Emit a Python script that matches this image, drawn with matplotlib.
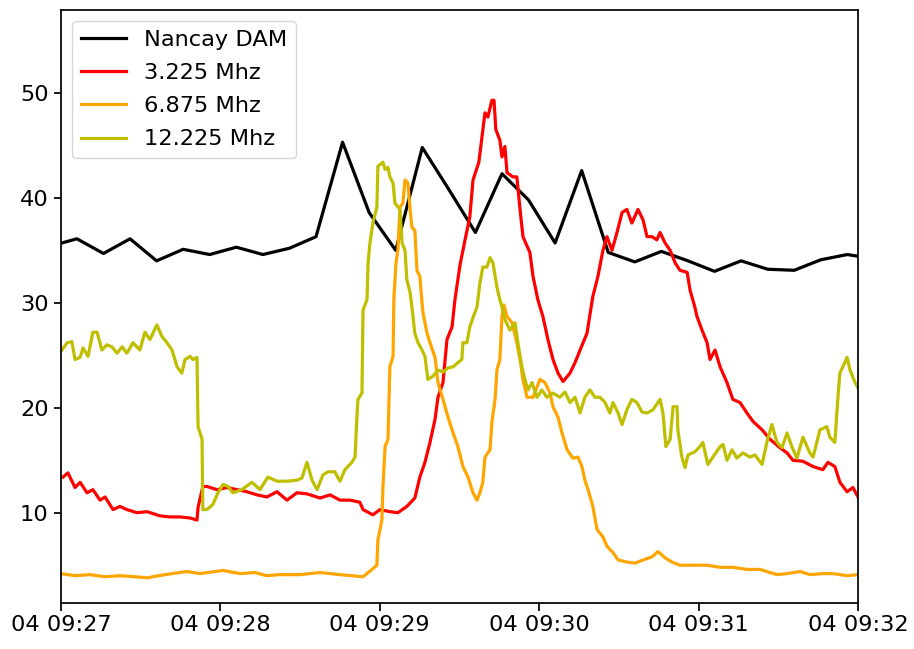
import pandas as pd
import matplotlib
matplotlib.use("Agg")
import matplotlib.pyplot as plt
import matplotlib.dates as mdates
from matplotlib.ticker import MultipleLocator

# seconds after 09:27:00 and values
dam_t = [-4, 6, 16, 26, 36, 46, 56, 66, 76, 86, 96, 106, 116, 126, 136, 146, 156, 166,
         176, 186, 196, 206, 216, 226, 236, 246, 256, 266, 276, 286, 296, 306]
dam_v = [35.4, 36.1, 34.7, 36.1, 34.0, 35.1, 34.6, 35.3, 34.6, 35.2, 36.3, 45.3, 38.6, 35.0,
         44.8, 40.8, 36.7, 42.3, 39.8, 35.7, 42.6, 34.8, 33.9, 34.9, 34.0, 33.0, 34.0, 33.2,
         33.1, 34.1, 34.6, 34.2]

red_t = [0.8, 2.6, 5.3, 7.2, 9.8, 12.0, 14.7, 16.6, 19.6, 22.2, 24.8, 28.6, 32.4, 37.3, 41.0,
         44.8, 48.5, 51.2, 51.6, 53.4, 55.0, 58.7, 62.5, 66.2, 70.0, 73.8, 77.5, 81.3, 85.1,
         88.8, 92.6, 97.5, 101.3, 105.0, 108.8, 112.5, 113.7, 117.4, 120.1, 123.8, 126.8,
         130.2, 133.2, 135.1, 137.0, 138.9, 140.8, 141.9, 143.8, 145.3, 147.2, 148.3, 150.2,
         152.1, 153.9, 155.1, 157.3, 159.6, 160.7, 162.2, 163.0, 163.7, 165.2, 166.0, 167.1,
         167.9, 170.1, 171.6, 172.8, 173.9, 176.5, 177.7, 179.5, 181.4, 183.3, 185.2, 187.1,
         189.0, 191.6, 193.5, 195.4, 198.0, 200.2, 202.1, 204.0, 205.5, 207.4, 209.3, 211.2,
         213.0, 214.9, 217.2, 219.1, 220.6, 222.5, 224.3, 225.5, 227.4, 229.3, 231.2, 233.0,
         235.7, 236.8, 238.6, 239.4, 241.3, 243.2, 244.3, 246.2, 248.1, 250.7, 252.9, 255.6,
         258.2, 260.5, 263.9, 266.9, 270.6, 273.3, 275.5, 279.3, 283.1, 286.8, 288.7, 291.3,
         293.2, 295.9, 298.1, 300.0]
red_v = [13.4, 13.8, 12.4, 12.9, 11.9, 12.2, 11.2, 11.5, 10.3, 10.6, 10.3, 10.0, 10.1, 9.7, 9.6,
         9.6, 9.5, 9.3, 10.5, 12.5, 12.5, 12.2, 12.4, 12.2, 12.0, 11.7, 11.5, 12.0, 11.2,
         11.9, 11.8, 11.4, 11.7, 11.2, 11.2, 11.0, 10.3, 9.8, 10.3, 10.1, 10.0,
         10.6, 11.4, 13.4, 14.8, 16.7, 18.9, 21.0, 22.4, 26.5, 27.7, 30.3, 33.6,
         36.0, 38.2, 41.7, 43.4, 48.1, 47.7, 49.3, 49.3, 46.5, 45.5, 43.9, 44.9,
         42.4, 42.0, 42.0, 38.9, 36.3, 34.8, 32.5, 30.3, 28.7, 26.5, 24.6, 23.3,
         22.5, 23.3, 24.3, 25.5, 27.1, 30.6, 32.5, 35.0, 36.3, 35.0, 36.7, 38.6,
         38.9, 37.6, 38.9, 37.9, 36.3, 36.3, 36.0, 36.7, 35.7, 35.0, 33.8, 33.1,
         32.9, 31.2, 29.6, 28.7, 27.4, 26.2, 24.6, 25.5, 23.9, 22.4, 20.8, 20.5,
         19.5, 18.7, 17.9, 17.0, 16.2, 15.7, 15.0, 14.9, 14.4, 14.1, 14.8, 14.4,
         12.9, 12.0, 12.4, 11.5]

orange_t = [0, 5.3, 10.9, 16.6, 22.2, 27.9, 32.4, 39.1, 47.4, 52.3, 61.0, 67.4, 73.0, 77.5,
            82.4, 90.0, 97.5, 105.0, 113.7, 117.1, 118.9, 119.3, 120.8, 121.2, 122.0, 123.1,
            123.8, 125.0, 125.3, 126.1, 126.8, 127.6, 128.7, 129.5, 130.6, 131.4, 132.1, 133.2,
            134.0, 135.1, 135.9, 136.3, 137.8, 138.9, 140.8, 141.9, 143.8, 145.7, 147.6, 149.4,
            151.3, 153.2, 155.1, 156.6, 157.7, 158.8, 159.6, 161.5, 162.2, 163.4, 164.1, 165.2,
            166.0, 166.7, 167.9, 169.8, 171.6, 172.8, 173.9, 175.4, 177.7, 180.3, 182.2, 184.1,
            185.2, 187.1, 188.6, 190.5, 192.7, 194.6, 196.1, 197.2, 198.4, 200.2, 201.8, 204.0,
            205.5, 207.8, 209.7, 213.0, 216.1, 219.1, 222.5, 224.7, 227.4, 230.0, 233.0, 236.8,
            239.4, 243.2, 248.1, 252.9, 258.2, 263.1, 269.5, 273.3, 278.2, 281.9, 286.8, 290.6,
            295.9, 300.0]
orange_v = [4.2, 4.0, 4.1, 3.9, 4.0, 3.9, 3.8, 4.1, 4.4, 4.2, 4.5, 4.2, 4.3, 4.0,
            4.1, 4.1, 4.3, 4.1, 3.9, 4.6, 5.0, 7.4, 9.3, 12.5, 16.3, 17.0,
            23.9, 24.9, 30.3, 33.8, 35.0, 39.1, 39.5, 41.7, 41.4, 38.9, 37.2, 36.9,
            33.1, 32.5, 30.0, 29.0, 27.1, 26.2, 24.8, 22.4, 20.8, 19.1, 17.6, 16.3,
            14.4, 13.4, 11.9, 11.2, 11.9, 12.9, 15.3, 16.0, 18.6, 20.8, 23.6, 24.6,
            28.7, 29.8, 28.7, 28.1, 26.2, 24.6, 22.7, 21.0, 21.0, 22.7, 22.4, 21.4,
            20.1, 19.1, 17.6, 16.0, 15.2, 15.3, 14.4, 13.1, 12.2, 10.6, 8.4, 7.7,
            6.8, 6.2, 5.5, 5.3, 5.2, 5.5, 5.8, 6.3, 5.7, 5.3, 5.0, 5.0,
            5.0, 5.0, 4.8, 4.8, 4.6, 4.6, 4.1, 4.2, 4.4, 4.1, 4.2, 4.2,
            4.0, 4.1]

yellow_t = [0.4, 2.3, 4.1, 5.3, 7.2, 8.3, 10.2, 12.0, 13.6, 15.4, 17.3, 19.2, 21.1, 23.0, 24.8,
            27.1, 29.7, 31.6, 33.5, 36.1, 38.0, 39.9, 41.8, 43.7, 45.5, 46.7, 48.6, 49.7, 51.2,
            51.6, 53.1, 53.4, 55.0, 57.2, 59.1, 61.0, 62.9, 64.7, 68.1, 71.9, 74.9, 77.9, 81.3,
            85.1, 88.8, 90.7, 92.6, 94.5, 96.4, 98.6, 100.5, 103.1, 105.0, 106.9, 109.5, 110.7,
            111.4, 111.8, 113.3, 113.7, 115.2, 115.6, 116.3, 117.4, 118.9, 119.3, 121.2, 122.0,
            123.1, 123.8, 125.0, 125.7, 127.6, 128.4, 129.5, 130.2, 131.4, 132.1, 133.2, 134.4,
            135.9, 137.0, 137.8, 138.1, 140.0, 141.9, 143.8, 145.7, 147.6, 149.4, 150.9, 151.3,
            152.8, 153.9, 155.1, 156.6, 157.7, 158.8, 160.3, 161.5, 162.6, 164.1, 165.2, 166.0,
            167.1, 169.0, 170.9, 172.0, 173.5, 174.6, 175.8, 177.3, 179.2, 181.0, 182.9, 185.2,
            187.8, 189.7, 191.6, 193.5, 195.4, 197.2, 199.1, 201.0, 202.9, 204.8, 206.6, 207.8,
            209.7, 211.2, 213.0, 214.9, 216.8, 218.7, 220.6, 222.8, 225.5, 226.6, 227.7, 229.3,
            230.4, 231.9, 232.2, 233.7, 234.9, 236.0, 238.6, 240.5, 241.6, 243.5, 245.4, 248.1,
            249.2, 250.7, 252.6, 254.4, 256.7, 259.3, 261.2, 263.9, 265.7, 267.6, 269.5, 271.4,
            273.3, 275.1, 277.0, 279.3, 281.9, 283.1, 285.7, 288.3, 289.4, 291.3, 292.4, 293.2,
            295.9, 297.0, 298.9, 300.0]
yellow_v = [25.5, 26.2, 26.3, 24.6, 24.8, 25.7, 24.9, 27.2, 27.2, 25.5, 26.0, 25.8, 25.2, 25.8, 25.2,
            26.2, 25.5, 27.2, 26.5, 27.9, 26.8, 26.2, 25.5, 23.9, 23.3, 24.6, 24.9, 24.6, 24.8,
            18.2, 17.0, 10.3, 10.3, 10.8, 11.9, 12.7, 12.5, 11.9, 12.2, 12.9, 12.2, 13.4, 13.0,
            13.0, 13.1, 13.3, 14.8, 13.1, 12.2, 13.6, 13.9, 13.9, 13.0, 14.1, 14.8, 15.3,
            19.1, 20.8, 21.4, 29.3, 30.3, 33.8, 35.7, 37.6, 39.1, 43.0, 43.4, 42.7,
            42.9, 42.0, 41.4, 39.5, 38.9, 35.7, 35.0, 32.2, 31.0, 29.6, 27.1, 26.2,
            25.5, 24.9, 23.3, 22.7, 23.0, 23.6, 23.4, 23.8, 23.9, 24.3, 24.6, 26.2,
            26.2, 27.7, 28.6, 29.6, 31.9, 33.4, 33.4, 34.3, 33.8, 31.5, 30.3, 29.6,
            28.4, 27.4, 28.1, 26.2, 23.9, 22.7, 21.7, 22.4, 21.0, 21.7, 21.0, 21.4,
            21.0, 21.5, 20.5, 21.0, 19.5, 21.0, 21.7, 21.0, 21.0, 20.5, 19.5, 20.5,
            19.5, 18.4, 19.8, 20.8, 20.5, 19.6, 19.5, 19.8, 20.8, 19.5, 16.3, 17.0,
            20.1, 20.1, 17.9, 15.3, 14.3, 15.5, 15.8, 16.3, 16.7, 14.6, 15.3, 16.3,
            16.5, 15.0, 16.0, 15.2, 15.7, 15.3, 15.5, 14.6, 16.7, 18.4, 16.7, 16.2,
            17.6, 16.3, 15.2, 17.2, 15.7, 15.3, 17.9, 18.2, 17.2, 16.7, 20.8, 23.3,
            24.8, 23.6, 22.4, 21.9]

start = pd.Timestamp("2021-11-04 09:27:00")


def to_time(secs):
    return start + pd.to_timedelta(secs, unit="s")


plt.rcParams["font.size"] = 16.2
plt.rcParams["axes.linewidth"] = 1.25
plt.rcParams["xtick.major.size"] = 5.4
plt.rcParams["ytick.major.size"] = 5.4
plt.rcParams["xtick.major.width"] = 1.25
plt.rcParams["ytick.major.width"] = 1.25

fig = plt.figure(figsize=(9.14, 6.49), dpi=100)
ax = fig.add_axes([0.0667, 0.0709, 0.872, 0.9137])

lw = 2.3
ax.plot(to_time(dam_t), dam_v, color="black", lw=lw, label="Nancay DAM")
ax.plot(to_time(red_t), red_v, color="red", lw=lw, label="3.225 Mhz")
ax.plot(to_time(orange_t), orange_v, color="orange", lw=lw, label="6.875 Mhz")
ax.plot(to_time(yellow_t), yellow_v, color="y", lw=lw, label="12.225 Mhz")

ax.set_xlim(start, to_time(300))
ax.set_ylim(1.4, 57.9)
ax.yaxis.set_major_locator(MultipleLocator(10))
ax.xaxis.set_major_locator(mdates.MinuteLocator())
ax.xaxis.set_major_formatter(mdates.DateFormatter("%d %H:%M"))

ax.legend(loc="upper left", labelspacing=0.58)

fig.savefig("out.png", dpi=100)
